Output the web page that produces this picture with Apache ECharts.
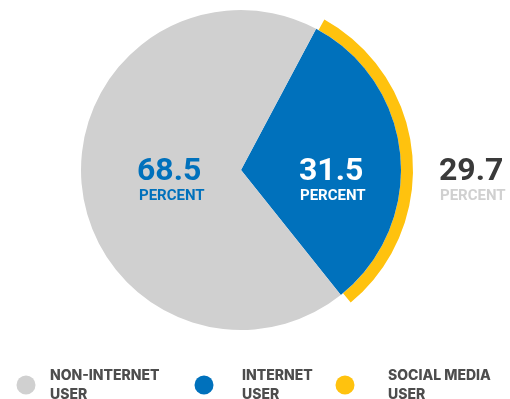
<!DOCTYPE html>
<html><head><meta charset="utf-8">
<script src="https://cdn.jsdelivr.net/npm/echarts@6/dist/echarts.min.js"></script>
<style>html,body{margin:0;padding:0;background:#fff}#c{width:510px;height:399px}</style>
</head><body><div id="c"></div>
<script>
var categories = ['NON-INTERNET\nUSER', 'INTERNET\nUSER', 'SOCIAL MEDIA\nUSER'];
var values = [68.5, 31.5, 29.7];
var valueLabels = ['68.5', '31.5', '29.7'];
var unitLabel = 'PERCENT';
var colors = ['#D0D0D0', '#0071BC', '#FFC20E'];

var F = 'Inter, "Open Sans", sans-serif';
var R = 'Roboto, "Liberation Sans", sans-serif';
var chart = echarts.init(document.getElementById('c'));
function lg(i, left, pad) {
  return {
    data: [categories[i]], left: left, top: 366, padding: 0, orient: 'horizontal',
    icon: 'circle', itemWidth: 19, itemHeight: 19, selectedMode: false,
    textStyle: {fontFamily: F, fontWeight: 800, fontSize: 14, color: '#4D4D4D', lineHeight: 19, padding: [0,0,0,pad]}
  };
}
chart.setOption({
  animation: false,
  color: colors,
  legend: [lg(0, 16.5, 9.5), lg(1, 194.5, 23.5), lg(2, 335.5, 28.5)],
  polar: {center: [241, 170], radius: [160, 172]},
  angleAxis: {type: 'value', min: 0, max: 96, startAngle: 61, clockwise: true, show: false},
  radiusAxis: {type: 'category', data: ['s'], show: false},
  series: [
    {
      type: 'pie', center: [241, 170], radius: 160, startAngle: 62, clockwise: true,
      label: {show: false}, labelLine: {show: false}, silent: true,
      data: [
        {name: categories[1], value: values[1], itemStyle: {color: colors[1]}},
        {name: categories[0], value: values[0], itemStyle: {color: colors[0]}}
      ]
    },
    {
      type: 'bar', coordinateSystem: 'polar', name: categories[2], barWidth: '100%', barCategoryGap: '0%',
      itemStyle: {color: colors[2]}, silent: true,
      data: [values[2]]
    }
  ],
  graphic: {elements: [
    {type: 'text', z: 100, left: 137, top: 156, style: {text: valueLabels[0], font: '700 32px ' + R, fill: '#0071BC'}},
    {type: 'text', z: 100, left: 139, top: 189, style: {text: unitLabel, font: '700 15px ' + R, fill: '#0071BC'}},
    {type: 'text', z: 100, left: 299, top: 156, style: {text: valueLabels[1], font: '700 32px ' + R, fill: '#fff'}},
    {type: 'text', z: 100, left: 300, top: 189, style: {text: unitLabel, font: '700 15px ' + R, fill: '#fff'}},
    {type: 'text', z: 100, left: 439, top: 156, style: {text: valueLabels[2], font: '700 32px ' + R, fill: '#3A3A3A'}},
    {type: 'text', z: 100, left: 440, top: 189, style: {text: unitLabel, font: '700 15px ' + R, fill: '#D0D0D0'}}
  ]}
});
</script></body></html>
